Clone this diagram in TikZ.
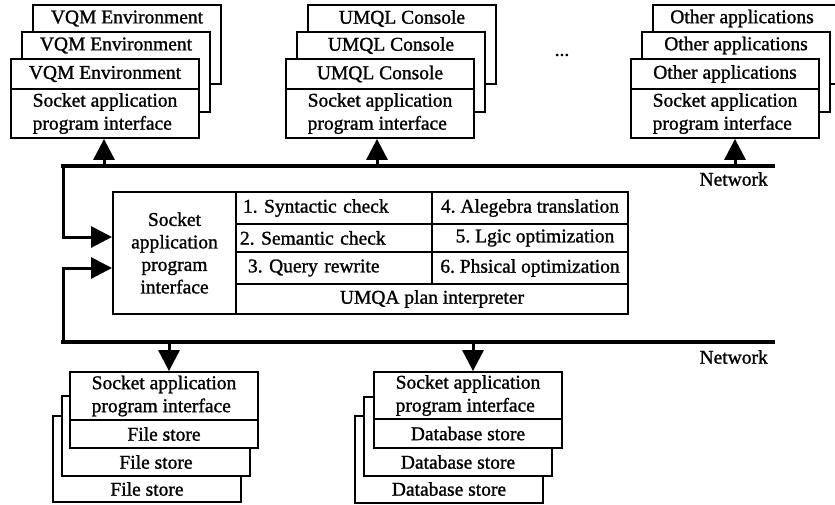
\documentclass[tikz,border=0pt]{standalone}
\usepackage{fontspec}
\setmainfont{Liberation Serif}
\newfontface\heavyserif{Liberation Serif}[FakeBold=1.2]
\frenchspacing
\usetikzlibrary{arrows.meta}
\begin{document}
\begin{tikzpicture}[x=1pt,y=-1pt,
 box/.style={draw, line width=1.8pt, fill=white, inner sep=0pt, minimum width=188pt},
 txt/.style={font=\fontsize{19.5}{23}\heavyserif, inner sep=0pt},
 cell/.style={draw, line width=2pt, font=\fontsize{19.5}{23}\heavyserif, inner ysep=0pt, inner xsep=0pt},
 net/.style={line width=3.2pt, line cap=rect},
 arr/.style={line width=3pt, -{Triangle[width=21pt,length=21pt]}},
]
\useasboundingbox (0,0) rectangle (835,504);

% ---- top-left group
\node[box, minimum height=79pt] (vqmC) at (127,44.5) {};
\node[txt] (vqmCt) at (127,18.5) {VQM Environment};
\node[box, minimum height=80pt] (vqmB) at (116,72) {};
\node[txt] (vqmBt) at (116,45.5) {VQM Environment};
\node[box, txt, minimum height=30pt] (vqmA) at (105,74) {VQM Environment};
\node[box, txt, minimum height=49pt, align=left] (vqmS) at (105,113.5) {Socket application\\program interface};

% ---- top-middle group
\node[box, minimum height=79pt] (umqC) at (402,44.5) {};
\node[txt] (umqCt) at (402,18.5) {UMQL Console};
\node[box, minimum height=80pt] (umqB) at (391,72) {};
\node[txt] (umqBt) at (391,45.5) {UMQL Console};
\node[box, txt, minimum height=30pt] (umqA) at (380,74) {UMQL Console};
\node[box, txt, minimum height=49pt, align=left] (umqS) at (380,113.5) {Socket application\\program interface};

\node[txt] (dots) at (562,55) {...};

% ---- top-right group
\node[box, minimum height=79pt] (othC) at (747,44.5) {};
\node[txt] (othCt) at (742,18.5) {Other applications};
\node[box, minimum height=80pt] (othB) at (736,72) {};
\node[txt] (othBt) at (736,45.5) {Other applications};
\node[box, txt, minimum height=30pt] (othA) at (725,74) {Other applications};
\node[box, txt, minimum height=49pt, align=left] (othS) at (725,113.5) {Socket application\\program interface};

% ---- central block
\node[cell, minimum width=123pt, minimum height=122pt, align=center,
      font=\fontsize{19.5}{22.5}\heavyserif] (sock) at (174.5,253) {Socket\\application\\program\\interface};
\node[cell, minimum width=196pt, minimum height=32pt, text width=182pt, inner xsep=7pt, align=left] (c1) at (334,208) {1. Syntactic check};
\node[cell, minimum width=196pt, minimum height=28pt, text width=188pt, inner xsep=4pt, align=left] (c2) at (334,238) {2. Semantic check};
\node[cell, minimum width=196pt, minimum height=32pt, text width=172pt, inner xsep=12pt, align=left] (c3) at (334,268) {3. Query rewrite};
\node[cell, minimum width=196pt, minimum height=32pt] (c4) at (530,208) {4. Alegebra translation};
\node[cell, minimum width=196pt, minimum height=28pt] (c5) at (530,238) {\hspace{10pt}5. Lgic optimization};
\node[cell, minimum width=196pt, minimum height=32pt] (c6) at (530,268) {6. Phsical optimization};
\node[cell, minimum width=392pt, minimum height=30pt] (c7) at (432,299) {UMQA plan interpreter};

% ---- networks
\coordinate (nwTL) at (63,166);
\coordinate (nwTR) at (773,166);
\coordinate (nwBL) at (63,342);
\coordinate (nwBR) at (773,342);
\draw[net] (nwTR) -- (nwTL);
\draw[net] (nwBR) -- (nwBL);
\node[txt, anchor=east] (netT) at (768,179) {Network};
\node[txt, anchor=east] (netB) at (768,357) {Network};

\draw[arr] (nwTL) |- ([yshift=16pt]sock.west);
\draw[arr] (nwBL) |- ([yshift=-15pt]sock.west);

\coordinate (aV) at ([xshift=-1pt]vqmS.south);
\coordinate (aU) at ([xshift=-3pt]umqS.south);
\coordinate (aO) at ([xshift=10pt]othS.south);
\draw[arr] (aV |- nwTL) -- (aV);
\draw[arr] (aU |- nwTL) -- (aU);
\draw[arr] (aO |- nwTL) -- (aO);

% ---- bottom-left group
\node[box, minimum height=86pt] (fsC) at (147,459) {};
\node[txt] (fsCt) at (147,489) {File store};
\node[box, minimum height=80pt] (fsB) at (156,436) {};
\node[txt] (fsBt) at (156,462) {File store};
\node[box, txt, minimum height=48pt, align=left] (fsS) at (164,396) {Socket application\\program interface};
\node[box, txt, minimum height=28pt] (fsA) at (164,434) {File store};

% ---- bottom-middle group
\node[box, minimum height=87pt] (dbC) at (449,459.5) {};
\node[txt] (dbCt) at (449,489) {Database store};
\node[box, minimum height=79pt] (dbB) at (458,436.5) {};
\node[txt] (dbBt) at (458,462) {Database store};
\node[box, txt, minimum height=47pt, align=left] (dbS) at (468,395.5) {Socket application\\program interface};
\node[box, txt, minimum height=29pt] (dbA) at (468,433.5) {Database store};

\coordinate (aF) at ([xshift=5pt]fsS.north);
\coordinate (aD) at ([xshift=5pt]dbS.north);
\draw[arr] (aF |- nwBL) -- (aF);
\draw[arr] (aD |- nwBL) -- (aD);
\end{tikzpicture}
\end{document}
